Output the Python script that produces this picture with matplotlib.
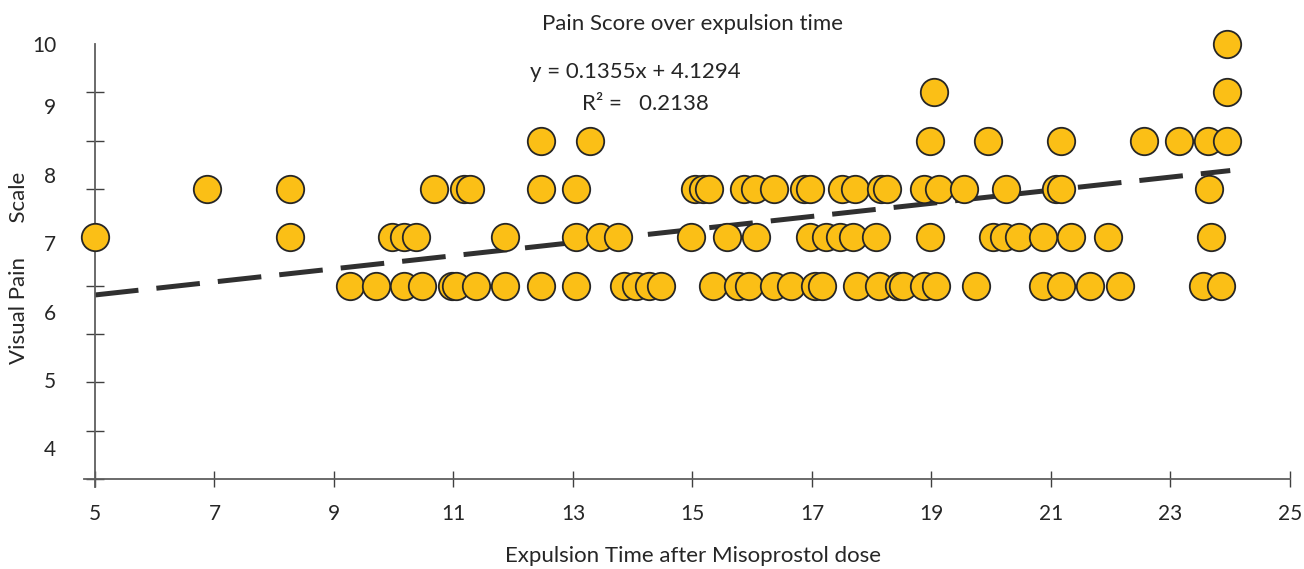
import numpy as np
import matplotlib
matplotlib.use("Agg")
import matplotlib.pyplot as plt
from matplotlib.ticker import FixedLocator, NullFormatter

plt.rcParams['font.family'] = ['Lato', 'DejaVu Sans']
plt.rcParams['lines.scale_dashes'] = False

# pain score rows (y value -> expulsion times)
x_10 = [23.95]
x_9 = [19.05, 23.95]
x_8 = [12.47, 13.28, 18.97, 19.95, 21.17, 22.55, 23.15, 23.63, 23.95]
x_7 = [6.87, 8.27, 10.67, 11.17, 11.28, 12.47, 13.05, 15.05, 15.17, 15.28,
       15.87, 16.05, 16.37, 16.87, 16.97, 17.5, 17.72, 18.15, 18.25, 18.87,
       19.13, 19.55, 20.25, 21.08, 21.17, 23.65]
x_6 = [5.0, 8.27, 9.97, 10.17, 10.37, 11.87, 13.05, 13.45, 13.75, 14.97,
       15.57, 16.07, 16.97, 17.23, 17.47, 17.68, 18.07, 18.97, 20.03, 20.22,
       20.47, 20.87, 21.33, 21.95, 23.67]
x_5 = [9.27, 9.70, 10.17, 10.47, 10.97, 11.05, 11.37, 11.87, 12.47, 13.05,
       13.85, 14.05, 14.27, 14.47, 15.35, 15.77, 15.95, 16.37, 16.65, 17.05,
       17.17, 17.75, 18.13, 18.45, 18.53, 18.87, 19.08, 19.75, 20.87, 21.17,
       21.65, 22.15, 23.55, 23.85]

rows = {10: x_10, 9: x_9, 8: x_8, 7: x_7, 6: x_6, 5: x_5}
xs = np.concatenate([np.array(v) for v in rows.values()])
ys = np.concatenate([np.full(len(v), k) for k, v in rows.items()])

# trendline as printed on the chart
slope, intercept, r2 = 0.1355, 4.1294, 0.2138
trend_x = np.array([5, 24])

x_ticks = [5, 7, 9, 11, 13, 15, 17, 19, 21, 23, 25]
y_tick_pos = list(range(1, 11))
# the printed y labels sit off the tick marks in the original
y_label_pos = [10, 8.72, 7.29, 5.88, 4.45, 3.04, 1.64]
y_label_txt = ['10', '9', '8', '7', '6', '5', '4']

W, H = 1304, 569
fig = plt.figure(figsize=(W / 100, H / 100), dpi=100)
ax = fig.add_axes([84 / W, 1 - 487 / H, 1206 / W, 443 / H])
ax.set_xlim(4.817, 25)
ax.set_ylim(0.834, 10)

axis_col = '#5f5f5f'
txt_col = '#262626'

ax.plot(trend_x, slope * trend_x + intercept, color='#303030', lw=3.6,
        dashes=(31.5, 13), dash_capstyle='butt', zorder=2)
ax.scatter(xs, ys, s=390, facecolor='#FBBF16', edgecolor='#262626',
           linewidth=1.3, zorder=3, clip_on=False)

for s in ['top', 'right']:
    ax.spines[s].set_visible(False)
ax.spines['left'].set_position(('data', 5))
ax.spines['bottom'].set_position(('data', 1))
for s in ['left', 'bottom']:
    ax.spines[s].set_color(axis_col)
    ax.spines[s].set_linewidth(1.3)

ax.set_xticks(x_ticks)
ax.tick_params(axis='x', direction='inout', length=12, width=1.0,
               color='#404040', pad=12, labelsize=15, labelcolor=txt_col)

ax.yaxis.set_minor_locator(FixedLocator(y_tick_pos))
ax.yaxis.set_minor_formatter(NullFormatter())
ax.set_yticks(y_label_pos)
ax.set_yticklabels(y_label_txt)
ax.tick_params(axis='y', which='major', length=0, pad=28, labelsize=15,
               labelcolor=txt_col)
ax.tick_params(axis='y', which='minor', direction='inout', length=13,
               width=1.0, color='#404040')

fig.text(693 / W, 1 - 24 / H, 'Pain Score over expulsion time', ha='center',
         va='center', fontsize=16, color=txt_col)
fig.text(635 / W, 1 - 72 / H, f'y = {slope}x + {intercept}', ha='center',
         va='center', fontsize=16, color=txt_col)
fig.text(645 / W, 1 - 104 / H, f'R² =   {r2}', ha='center', va='center',
         fontsize=16, color=txt_col)
fig.text(693 / W, 1 - 556 / H, 'Expulsion Time after Misoprostol dose',
         ha='center', va='center', fontsize=16, color=txt_col)
fig.text(19 / W, 1 - 268 / H, 'Visual Pain      Scale', rotation=90,
         ha='center', va='center', fontsize=16, color=txt_col)

fig.savefig('out.png', dpi=100)
